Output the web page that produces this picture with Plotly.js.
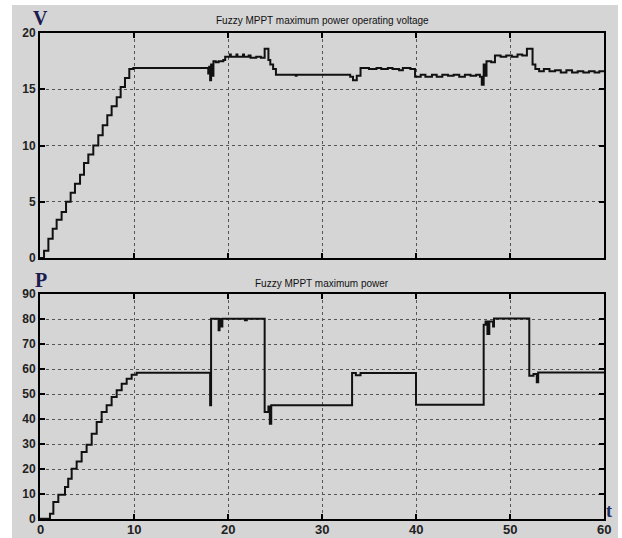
<!DOCTYPE html>
<html>
<head>
<meta charset="utf-8">
<script src="https://cdn.plot.ly/plotly-3.0.1.min.js"></script>
<style>html,body{margin:0;padding:0;background:#fff;}#chart{width:622px;height:538px;}</style>
</head>
<body>
<div id="chart"></div>
<script>
// Voltage (V) vs time (t), step-held values
const tV = [0, 0.43, 0.89, 1.35, 1.77, 2.3, 2.77, 3.26, 3.72, 4.26, 4.68, 5.14, 5.67, 6.2, 6.67, 7.16, 7.62, 8.16, 8.58, 9.04, 9.5, 9.93,
  17.9, 18.0, 18.1, 18.2, 18.35, 18.45, 18.7, 19.0, 19.5, 19.7,
  20.2, 20.3, 20.9, 21.0, 21.6, 21.7, 22.2, 22.4, 23.0, 23.5, 23.9, 24.3, 24.5, 24.8, 25.1,
  27.2, 27.3, 33.0, 33.3, 33.7, 34.1,
  35.0, 35.8, 36.3, 37.0, 37.5, 38.2, 38.6, 39.4, 39.9,
  40.5, 41.0, 41.7, 42.2, 42.8, 43.4, 44.0, 44.6, 45.2, 45.8, 46.4, 46.8,
  47.0, 47.2, 47.3, 47.5, 48.0, 48.4, 49.0, 49.6, 50.2, 50.8, 51.3, 51.8, 52.4, 52.7, 53.1,
  53.6, 54.2, 54.8, 55.4, 56.0, 56.6, 57.2, 57.8, 58.4, 59.0, 59.5, 60];
const vVals = [0, 0.65, 1.7, 2.6, 3.4, 4.1, 5.0, 5.8, 6.6, 7.4, 8.45, 9.2, 10.0, 10.9, 11.8, 12.7, 13.5, 14.3, 15.2, 16.0, 16.8, 16.9,
  16.4, 17.0, 15.8, 17.2, 16.2, 17.5, 17.4, 17.5, 17.6, 17.9,
  18.1, 17.9, 18.1, 17.9, 18.1, 17.9, 18.0, 17.8, 17.9, 17.8, 18.6, 17.6, 17.2, 16.8, 16.3,
  16.2, 16.3, 16.1, 15.8, 16.2, 16.9,
  16.8, 16.9, 16.8, 16.9, 16.8, 16.7, 16.9, 16.8, 16.1,
  16.3, 16.1, 16.3, 16.1, 16.3, 16.2, 16.3, 16.1, 16.3, 16.2, 16.3, 16.1,
  15.4, 17.2, 16.2, 17.5, 17.4, 18.0, 17.9, 18.0, 17.9, 18.1, 18.0, 18.6, 17.2, 16.8, 16.6,
  16.8, 16.6, 16.7, 16.5, 16.7, 16.5, 16.6, 16.5, 16.6, 16.5, 16.6, 16.6];

// Power (P) vs time (t), step-held values
const tP = [0, 1.06, 1.42, 1.95, 2.66, 3.0, 3.37, 3.9, 4.43, 4.96, 5.5, 6.03, 6.56, 7.09, 7.62, 8.16, 8.69, 9.22, 9.75, 10.28,
  18.1, 18.2, 19.0, 19.1, 19.3, 19.4, 21.8, 22.0, 23.9, 24.3, 24.45, 24.6,
  33.2, 33.6, 34.1, 40.0, 47.2, 47.4, 47.6, 47.8, 48.2, 48.3, 52.05, 52.5, 52.85, 53.0, 60];
const pVals = [0.1, 2.1, 6.8, 9.7, 12.8, 16.1, 20.1, 23.0, 26.8, 29.7, 34.1, 38.8, 42.8, 45.5, 48.8, 51.5, 54.1, 56.1, 57.7, 58.5,
  45.5, 80.1, 75.5, 80.0, 77.0, 80.1, 79.5, 80.1, 42.8, 45.0, 38.1, 45.5,
  58.4, 57.5, 58.4, 45.7, 77.7, 79.0, 74.0, 79.0, 77.0, 80.2, 57.3, 58.0, 54.7, 58.6, 58.6];

const xTicks = [0, 10, 20, 30, 40, 50, 60];
const vTicks = [0, 5, 10, 15, 20];
const pTicks = [0, 10, 20, 30, 40, 50, 60, 70, 80, 90];

const titleTop = "Fuzzy MPPT maximum power operating voltage";
const titleBottom = "Fuzzy MPPT maximum power";

const W = 622, H = 538;
const BG = '#d5d5d5';
const fx = px => px / W;
const fy = py => 1 - py / H;

const lineStyle = {color: '#111', width: 2, shape: 'hv'};
const traces = [
  {x: tV, y: vVals, type: 'scatter', mode: 'lines', line: lineStyle, xaxis: 'x2', yaxis: 'y2', hoverinfo: 'skip'},
  {x: tP, y: pVals, type: 'scatter', mode: 'lines', line: lineStyle, xaxis: 'x', yaxis: 'y', hoverinfo: 'skip'}
];

const tickFont = {family: 'Liberation Sans, Arial, sans-serif', size: 12, color: '#222', weight: 'bold'};
const axisCommon = {
  showline: true, linecolor: '#000', linewidth: 2, mirror: 'ticks',
  ticks: 'inside', ticklen: 5, tickwidth: 2, tickcolor: '#000',
  showgrid: true, gridcolor: '#555', gridwidth: 1, griddash: 'dot',
  zeroline: false, tickfont: tickFont, fixedrange: true
};

// x tick labels of the bottom panel, placed at their data positions
const xTickLabels = xTicks.map(v => ({
  text: '<b>' + v + '</b>', xref: 'x', yref: 'paper', x: v, y: fy(529), showarrow: false,
  xanchor: 'center', yanchor: 'middle',
  font: {family: 'Liberation Sans, Arial, sans-serif', size: 13, color: '#222'}
}));

const layout = {
  width: W, height: H,
  margin: {l: 0, r: 0, t: 0, b: 0},
  paper_bgcolor: '#ffffff',
  plot_bgcolor: BG,
  showlegend: false,
  xaxis: Object.assign({}, axisCommon, {
    domain: [fx(40), fx(604)], range: [0, 60], tickvals: xTicks, anchor: 'y', showticklabels: false
  }),
  yaxis: Object.assign({}, axisCommon, {
    domain: [fy(519), fy(294)], range: [0, 90], tickvals: pTicks, anchor: 'x'
  }),
  xaxis2: Object.assign({}, axisCommon, {
    domain: [fx(40), fx(604)], range: [0, 60], tickvals: xTicks, anchor: 'y2', showticklabels: false
  }),
  yaxis2: Object.assign({}, axisCommon, {
    domain: [fy(258), fy(33)], range: [0, 20], tickvals: vTicks, anchor: 'x2'
  }),
  shapes: [
    {type: 'rect', xref: 'paper', yref: 'paper', x0: fx(12), x1: fx(618), y0: 0, y1: fy(5),
     fillcolor: BG, line: {width: 0}, layer: 'below'}
  ],
  annotations: [
    {text: titleTop, xref: 'paper', yref: 'paper', x: fx(322), y: fy(21), showarrow: false,
     xanchor: 'center', yanchor: 'middle', font: {family: 'Liberation Sans, Arial, sans-serif', size: 10, color: '#111'}},
    {text: titleBottom, xref: 'paper', yref: 'paper', x: fx(322), y: fy(283), showarrow: false,
     xanchor: 'center', yanchor: 'middle', font: {family: 'Liberation Sans, Arial, sans-serif', size: 10, color: '#111'}},
    {text: '<b>V</b>', xref: 'paper', yref: 'paper', x: fx(41), y: fy(18), showarrow: false,
     xanchor: 'center', yanchor: 'middle', font: {family: 'Liberation Serif, Times New Roman, serif', size: 20, color: '#1c1c50'}},
    {text: '<b>P</b>', xref: 'paper', yref: 'paper', x: fx(41), y: fy(280), showarrow: false,
     xanchor: 'center', yanchor: 'middle', font: {family: 'Liberation Serif, Times New Roman, serif', size: 20, color: '#1c1c50'}},
    {text: '<b>t</b>', xref: 'paper', yref: 'paper', x: fx(609), y: fy(511), showarrow: false,
     xanchor: 'center', yanchor: 'middle', font: {family: 'Liberation Serif, Times New Roman, serif', size: 18, color: '#1c2c60'}}
  ].concat(xTickLabels)
};

Plotly.newPlot('chart', traces, layout, {staticPlot: true, displayModeBar: false});
</script>
</body>
</html>
